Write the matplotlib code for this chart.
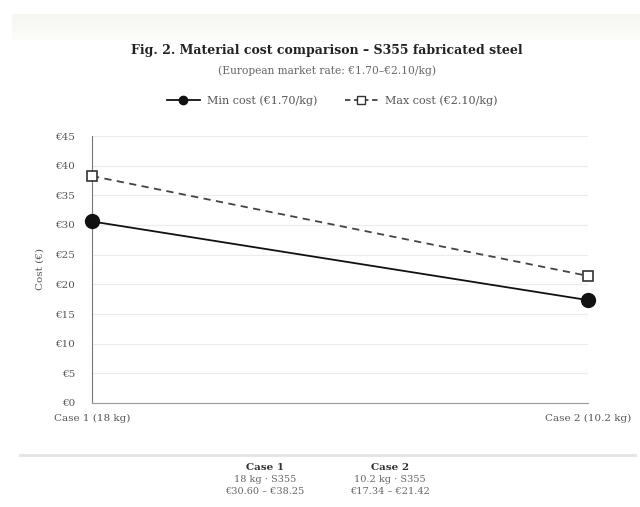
import numpy as np
import matplotlib.pyplot as plt
from matplotlib.lines import Line2D

cases = ['Case 1 (18 kg)', 'Case 2 (10.2 kg)']
min_cost = [30.60, 17.34]
max_cost = [38.25, 21.42]
yticks = [0, 5, 10, 15, 20, 25, 30, 35, 40, 45]
table_heads = ['Case 1', 'Case 2']
table_lines = [['18 kg · S355', '€30.60 – €38.25'],
               ['10.2 kg · S355', '€17.34 – €21.42']]

FONT = 'DejaVu Serif'
plt.rcParams['font.family'] = [FONT, 'DejaVu Sans']

W, H = 640, 507
fig = plt.figure(figsize=(6.4, 5.07), dpi=100)
fig.patch.set_facecolor('white')

# faint header band
band = fig.add_axes([12 / W, 1 - 40 / H, 628 / W, 26 / H], zorder=-5)
grad = np.linspace(0, 1, 50).reshape(-1, 1)
c_top = np.array([0.963, 0.966, 0.945])
c_bot = np.array([0.99, 0.99, 0.98])
img = c_top + grad[:, :, None] * (c_bot - c_top)
band.imshow(img, aspect='auto', extent=[0, 1, 0, 1])
band.axis('off')

ax = fig.add_axes([92 / W, 1 - 403 / H, 496 / W, 267 / H])
ax.set_facecolor('none')
x = np.arange(len(cases))
ax.plot(x, min_cost, color='#111111', lw=1.3, marker='o', ms=10,
        mfc='#111111', mec='#111111', clip_on=False, zorder=4)
ax.plot(x, max_cost, color='#444444', lw=1.3, ls=(0, (4, 3)), marker='s', ms=7,
        mfc='white', mec='#333333', mew=1.2, clip_on=False, zorder=4)

ax.set_xlim(0, 1)
ax.set_ylim(0, 45)
ax.set_yticks(yticks)
ax.set_yticklabels([f'€{v}' for v in yticks])
ax.set_xticks(x)
ax.set_xticklabels(cases)
ax.tick_params(axis='both', length=0, labelsize=7.5, colors='#555555')
ax.tick_params(axis='y', pad=12)
ax.tick_params(axis='x', pad=8)
ax.grid(axis='y', color='#ececec', lw=0.8)
ax.axvline(1, color='#f0f0f0', lw=0.8)
for s in ['top', 'right']:
    ax.spines[s].set_visible(False)
ax.spines['left'].set_color('#777777')
ax.spines['bottom'].set_color('#999999')
ax.set_ylabel('Cost (€)', fontsize=7.5, color='#555555', labelpad=8)

fig.text(327 / W, 1 - 50 / H, 'Fig. 2. Material cost comparison – S355 fabricated steel',
         ha='center', va='center', fontsize=9, fontweight='bold', color='#222222')
fig.text(327 / W, 1 - 71 / H, '(European market rate: €1.70–€2.10/kg)',
         ha='center', va='center', fontsize=7.7, color='#666666')

handles = [Line2D([], [], color='#111111', lw=1.3, marker='o', ms=6),
           Line2D([], [], color='#444444', lw=1.3, ls=(0, (3, 2)), marker='s', ms=6,
                  mfc='white', mec='#333333')]
fig.legend(handles, ['Min cost (€1.70/kg)', 'Max cost (€2.10/kg)'],
           loc='center', bbox_to_anchor=(332 / W, 1 - 101 / H), ncol=2,
           frameon=False, fontsize=8, labelcolor='#555555',
           handlelength=3, columnspacing=2.5, handletextpad=0.6)

# separator line
fig.add_artist(Line2D([20 / W, 635 / W], [1 - 455 / H, 1 - 455 / H],
                      color='#e4e4e4', lw=2))

for cx, head, lines in zip([265, 390], table_heads, table_lines):
    fig.text(cx / W, 1 - 468 / H, head, ha='center', va='center',
             fontsize=7.5, fontweight='bold', color='#333333')
    for k, t in enumerate(lines):
        fig.text(cx / W, 1 - (480 + 11.5 * k) / H, t, ha='center', va='center',
                 fontsize=7, color='#666666')

fig.savefig('out.png', dpi=100)
